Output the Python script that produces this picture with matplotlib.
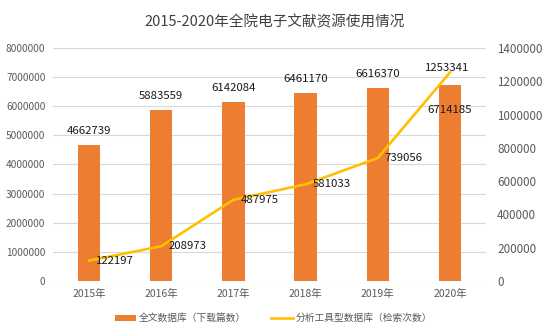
import numpy as np
import matplotlib
matplotlib.use('Agg')
import matplotlib.pyplot as plt

plt.rcParams['font.family'] = ['Noto Sans CJK SC', 'DejaVu Sans']

years = ['2015年', '2016年', '2017年', '2018年', '2019年', '2020年']
downloads = [4662739, 5883559, 6142084, 6461170, 6616370, 6714185]
searches = [122197, 208973, 487975, 581033, 739056, 1253341]

BAR_C = '#ED7D31'
LINE_C = '#FFC000'
GRID_C = '#D9D9D9'
TICK_C = '#595959'

fig = plt.figure(figsize=(5.5, 3.36), dpi=100)
ax = fig.add_axes([0.0964, 0.1637, 0.7873, 0.6935])
ax2 = ax.twinx()

x = np.arange(len(years))
ax.bar(x, downloads, width=0.31, color=BAR_C, zorder=2, label='全文数据库（下载篇数）')
ax2.plot(x, searches, color=LINE_C, lw=1.9, zorder=3, label='分析工具型数据库（检索次数）')

ax.set_xlim(-0.5, 5.5)
ax.set_ylim(0, 8000000)
ax.set_yticks(np.arange(0, 8000001, 1000000))
ax.set_yticklabels([str(v) for v in range(0, 8000001, 1000000)])
ax2.set_ylim(0, 1400000)
ax2.set_yticks(np.arange(0, 1400001, 200000))
ax2.set_yticklabels([str(v) for v in range(0, 1400001, 200000)])
ax.set_xticks(x)
ax.set_xticklabels(years)

ax.grid(axis='y', color=GRID_C, lw=0.8, zorder=0)
ax.set_axisbelow(True)
for a in (ax, ax2):
    for s in a.spines.values():
        s.set_visible(False)
    a.tick_params(length=0, colors=TICK_C)
ax.tick_params(axis='y', pad=5.5, labelsize=7.3)
ax.tick_params(axis='x', pad=6, labelsize=7.5)
ax2.tick_params(axis='y', pad=8, labelsize=8.4)
ax2.set_zorder(ax.get_zorder() + 1)
ax2.patch.set_visible(False)

for i, v in enumerate(downloads):
    dy = 10 if i < 5 else -18
    ax.annotate(str(v), (x[i], v), xytext=(0, dy), textcoords='offset points',
                ha='center', va='center', fontsize=8.2, color='#1a1a1a')

for i, v in enumerate(searches):
    if i < 5:
        ax2.annotate(str(v), (x[i], v), xytext=(5, 0), textcoords='offset points',
                     ha='left', va='center', fontsize=8.2, color='#1a1a1a')
    else:
        ax2.annotate(str(v), (x[i], v), xytext=(-2, 3), textcoords='offset points',
                     ha='center', va='center', fontsize=8.2, color='#1a1a1a')

fig.text(0.5, 0.935, '2015-2020年全院电子文献资源使用情况', ha='center', va='center',
         fontsize=10.5, color='#404040')

h1, l1 = ax.get_legend_handles_labels()
h2, l2 = ax2.get_legend_handles_labels()
fig.legend(h1 + h2, l1 + l2, loc='center', bbox_to_anchor=(0.497, 0.053), ncol=2,
           frameon=False, fontsize=7, labelcolor=TICK_C, handlelength=2.2,
           handleheight=0.6, columnspacing=2.6, handletextpad=0.3)

fig.savefig('out.png', dpi=100)
